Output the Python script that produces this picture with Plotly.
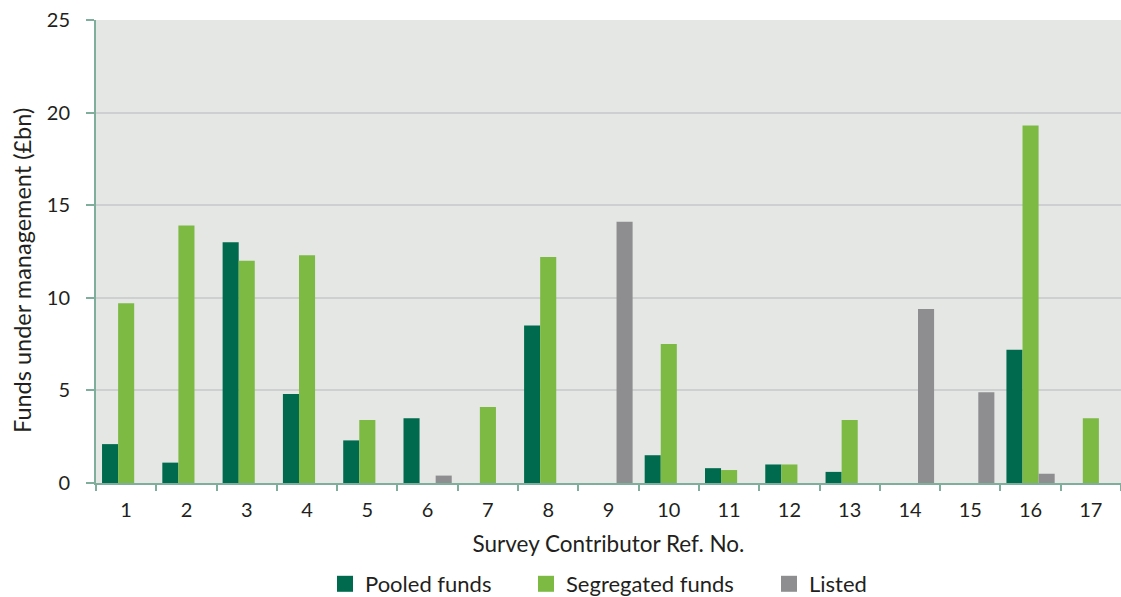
import plotly.graph_objects as go

contributors = [str(i) for i in range(1, 18)]
pooled = [2.1, 1.1, 13.0, 4.8, 2.3, 3.5, 0, 8.5, 0, 1.5, 0.8, 1.0, 0.6, 0, 0, 7.2, 0]
segregated = [9.7, 13.9, 12.0, 12.3, 3.4, 0, 4.1, 12.2, 0, 7.5, 0.7, 1.0, 3.4, 0, 0, 19.3, 3.5]
listed = [0, 0, 0, 0, 0, 0.4, 0, 0, 14.1, 0, 0, 0, 0, 9.4, 4.9, 0.5, 0]

# (name, values, colour, legend id, left pixel of the legend box)
series = [
    ("Pooled funds", pooled, "#006A4E", "legend", 325),
    ("Segregated funds", segregated, "#7DBA44", "legend2", 526),
    ("Listed", listed, "#8E8E90", "legend3", 769),
]

FONT = "Lato"
TEXT = "#231F20"
AXIS = "#7FAF9C"
W, H = 1121, 597
PLOT_L, PLOT_T, PLOT_B = 96, 20, 483

fig = go.Figure()
for name, vals, color, _, _ in series:
    fig.add_trace(go.Bar(x=contributors, y=vals, name=name, marker_color=color,
                         marker_line_width=0, showlegend=False))
# legend swatches, one legend box per series
legends = {}
for name, vals, color, leg, xpix in series:
    fig.add_trace(go.Scatter(x=[None], y=[None], mode="markers", name=name, legend=leg,
                             marker=dict(symbol="square", size=22, color=color)))
    legends[leg] = dict(orientation="h", xref="container", yref="container",
                        x=xpix / W, xanchor="left", y=13 / H, yanchor="middle",
                        font=dict(size=22, color=TEXT, family=FONT),
                        itemsizing="trace", bgcolor="rgba(0,0,0,0)")

fig.update_layout(
    width=W, height=H,
    margin=dict(l=PLOT_L, r=0, t=PLOT_T, b=H - PLOT_B),
    paper_bgcolor="white",
    plot_bgcolor="#E5E7E4",
    barmode="group", bargap=0.2, bargroupgap=0,
    font=dict(family=FONT, size=20, color=TEXT),
    annotations=[dict(text="Funds under management (£bn)", textangle=-90,
                      xref="paper", yref="paper",
                      x=(22 - PLOT_L) / (W - PLOT_L),
                      y=(PLOT_B - 271) / (PLOT_B - PLOT_T),
                      xanchor="center", yanchor="middle", showarrow=False,
                      font=dict(size=23.5, color=TEXT, family=FONT))],
    **legends,
)

fig.update_xaxes(
    type="category", tickson="boundaries", ticks="outside", ticklen=6, tickwidth=2,
    tickcolor=AXIS, showline=True, linecolor=AXIS, linewidth=2, showgrid=False,
    automargin=False, ticklabelstandoff=8,
    title=dict(text="Survey Contributor Ref. No.", standoff=16,
               font=dict(size=22.5, color=TEXT, family=FONT)),
)
fig.update_yaxes(
    range=[0, 25], tickvals=[0, 5, 10, 15, 20, 25], ticks="outside", ticklen=8,
    tickwidth=2, tickcolor=AXIS, showline=True, linecolor=AXIS, linewidth=2,
    showgrid=True, gridcolor="#CDCFD0", gridwidth=2, zeroline=False,
    automargin=False, ticklabelstandoff=12,
)

fig.write_html("out.html")
